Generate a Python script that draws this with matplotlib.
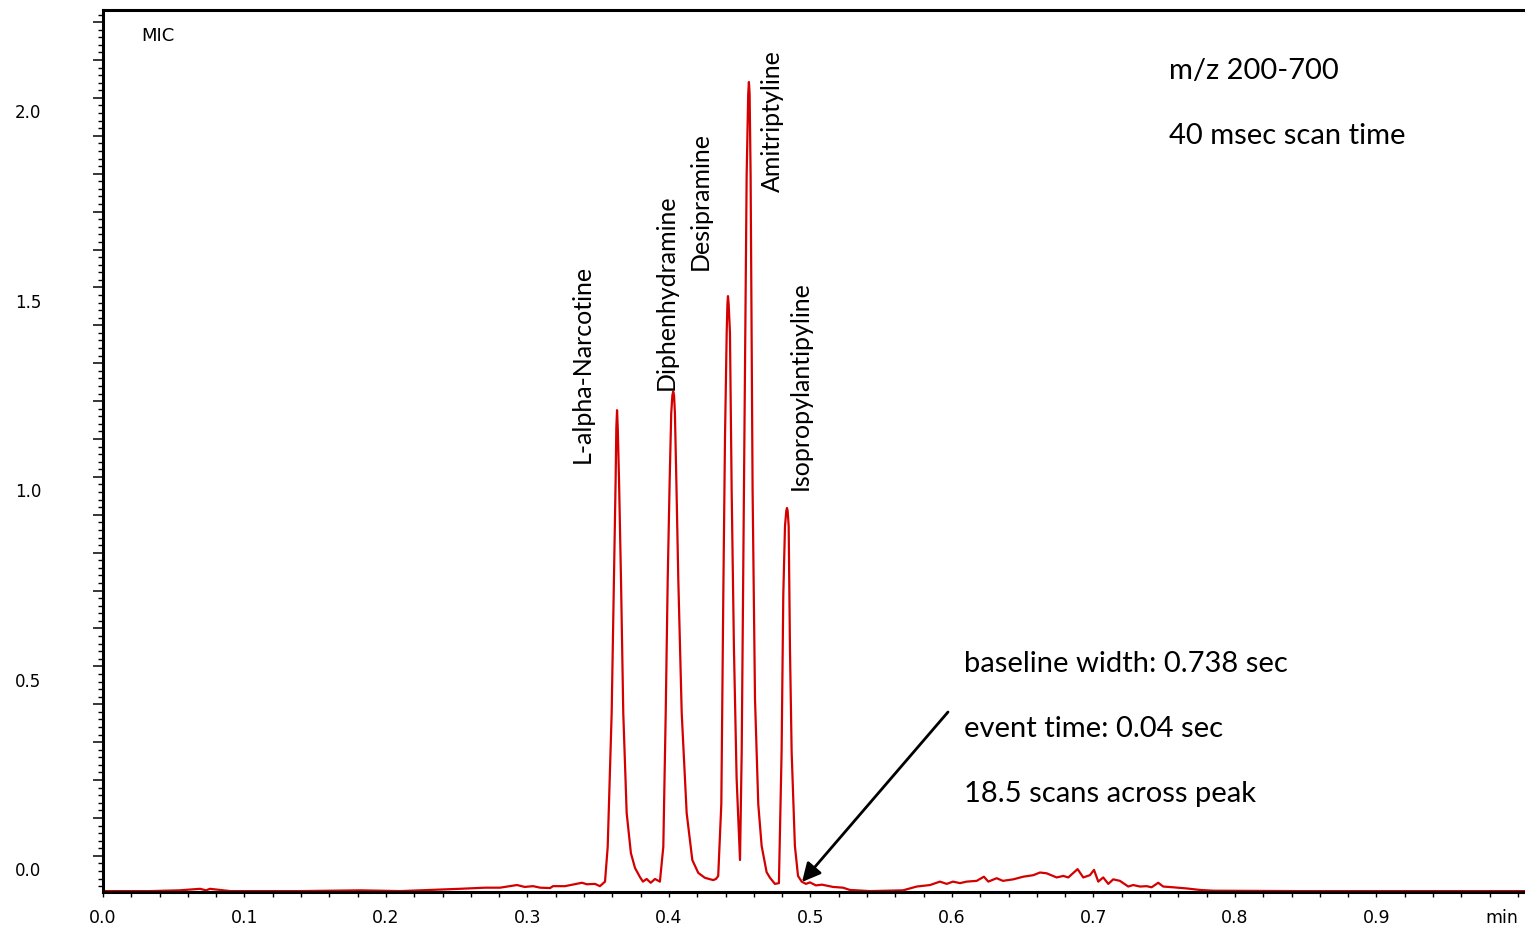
import matplotlib
matplotlib.use("Agg")
import matplotlib.pyplot as plt
from matplotlib.ticker import FixedLocator, MultipleLocator, NullFormatter
from matplotlib.transforms import blended_transform_factory

# Retention time (min) and MIC intensity of the chromatogram trace
time_min = [
    0.000, 0.033, 0.054, 0.0686, 0.0728, 0.0756, 0.090, 0.139, 0.182, 0.210,
    0.231, 0.252, 0.270, 0.2806, 0.2926, 0.298, 0.304, 0.309, 0.316, 0.318,
    0.3265, 0.332, 0.3385, 0.342, 0.3477, 0.3512, 0.3548, 0.3567, 0.3595, 0.3611,
    0.3623, 0.3628, 0.3633, 0.3638, 0.3647, 0.3661, 0.3677, 0.3701, 0.3731, 0.3760,
    0.3795, 0.3816, 0.3842, 0.3871, 0.3901, 0.3936, 0.3960, 0.3977, 0.3991, 0.4005,
    0.4016, 0.4024, 0.4030, 0.4036, 0.4042, 0.4052, 0.4066, 0.4090, 0.4125, 0.4165,
    0.4207, 0.4254, 0.4313, 0.4332, 0.4348, 0.4370, 0.4384, 0.4396, 0.4408, 0.4413,
    0.4417, 0.4422, 0.4431, 0.4443, 0.4459, 0.4478, 0.4502, 0.4514, 0.4530, 0.4549,
    0.4560, 0.4565, 0.4570, 0.4577, 0.4591, 0.4608, 0.4631, 0.4655, 0.4690, 0.4714,
    0.4749, 0.4777, 0.4796, 0.4808, 0.4820, 0.4829, 0.4834, 0.4839, 0.4846, 0.4855,
    0.4867, 0.4890, 0.4912, 0.4938, 0.4968, 0.4996, 0.5039, 0.5081, 0.5159, 0.5230,
    0.5279, 0.542, 0.5654, 0.5751, 0.5845, 0.5915, 0.5963, 0.6007, 0.6057, 0.6104,
    0.6175, 0.6226, 0.6257, 0.6316, 0.6360, 0.6433, 0.6504, 0.6575, 0.6622, 0.6669,
    0.6740, 0.6787, 0.6822, 0.6888, 0.6928, 0.6975, 0.7004, 0.7034, 0.7069, 0.7105,
    0.7140, 0.7187, 0.7246, 0.7281, 0.7329, 0.7376, 0.7411, 0.7458, 0.7493, 0.7564,
    0.7659, 0.7753, 0.7847, 0.846, 0.917, 1.005,
]
intensity = [
    -0.053, -0.053, -0.051, -0.047, -0.051, -0.047, -0.053, -0.053, -0.051, -0.053,
    -0.050, -0.047, -0.044, -0.044, -0.037, -0.042, -0.040, -0.044, -0.045, -0.040,
    -0.040, -0.036, -0.031, -0.035, -0.034, -0.040, -0.028, 0.064, 0.417, 0.768,
    1.032, 1.170, 1.216, 1.170, 1.032, 0.768, 0.417, 0.153, 0.047, 0.008,
    -0.016, -0.028, -0.021, -0.031, -0.021, -0.028, 0.064, 0.417, 0.768, 1.032,
    1.208, 1.255, 1.265, 1.255, 1.208, 1.032, 0.768, 0.417, 0.153, 0.029,
    -0.005, -0.018, -0.024, -0.021, -0.013, 0.177, 0.729, 1.145, 1.421, 1.495,
    1.517, 1.495, 1.421, 1.005, 0.591, 0.245, 0.029, 0.314, 1.005, 1.836,
    2.050, 2.082, 2.050, 1.836, 1.005, 0.454, 0.177, 0.066, -0.003, -0.018,
    -0.034, -0.032, 0.314, 0.729, 0.910, 0.950, 0.958, 0.950, 0.910, 0.591,
    0.314, 0.066, -0.013, -0.028, -0.034, -0.030, -0.038, -0.036, -0.042, -0.044,
    -0.050, -0.053, -0.051, -0.041, -0.037, -0.028, -0.034, -0.028, -0.032, -0.028,
    -0.026, -0.015, -0.028, -0.019, -0.026, -0.022, -0.015, -0.011, -0.004, -0.006,
    -0.017, -0.013, -0.017, 0.005, -0.017, -0.011, 0.003, -0.028, -0.017, -0.034,
    -0.022, -0.026, -0.041, -0.037, -0.041, -0.040, -0.043, -0.031, -0.041, -0.043,
    -0.046, -0.050, -0.052, -0.053, -0.053, -0.053,
]

# Compound names and the (time, intensity) anchor of each vertical label
compounds = ["L-alpha-Narcotine", "Diphenhydramine", "Desipramine",
             "Amitriptyline", "Isopropylantipyline"]
label_time = [0.3385, 0.398, 0.422, 0.4728, 0.4926]
label_height = [1.077, 1.269, 1.586, 1.792, 1.005]

y_tick_values = [0.0, 0.5, 1.0, 1.5, 2.0]
x_tick_values = [0.0, 0.1, 0.2, 0.3, 0.4, 0.5, 0.6, 0.7, 0.8, 0.9, 1.0]
x_tick_labels = ["0.0", "0.1", "0.2", "0.3", "0.4", "0.5", "0.6", "0.7", "0.8", "0.9", "min"]

method_notes = ["m/z 200-700", "40 msec scan time"]
peak_notes = ["baseline width: 0.738 sec", "event time: 0.04 sec", "18.5 scans across peak"]

W, H = 1525, 927
fig = plt.figure(figsize=(W / 100, H / 100), dpi=100)
ax = fig.add_axes([103 / W, 1 - 892 / H, 1 - 103 / W, (892 - 10) / H])

trace_red = "#d40000"
ax.plot(time_min, intensity, color=trace_red, lw=1.6, solid_joinstyle="round")

ax.set_xlim(0, 1.005)
ax.set_ylim(-0.0554, 2.272)

for side in ("left", "bottom", "top"):
    ax.spines[side].set_linewidth(2.2)
    ax.spines[side].set_color("black")
ax.spines["right"].set_visible(False)

# y axis: tick marks every 0.1 with 0.02 minor divisions
ax.yaxis.set_major_locator(MultipleLocator(0.1, offset=0.04))
ax.yaxis.set_minor_locator(MultipleLocator(0.02))
ax.yaxis.set_major_formatter(NullFormatter())
ax.tick_params(axis="y", which="major", length=7.5, width=1.1, direction="out")
ax.tick_params(axis="y", which="minor", length=3.8, width=1.0, direction="out")
ylab_tr = blended_transform_factory(fig.transFigure, ax.transData)
for v in y_tick_values:
    ax.text(28 / W, v, f"{v:.1f}", transform=ylab_tr, ha="center", va="center",
            fontsize=12, family="DejaVu Sans", color="black")

# x axis
ax.xaxis.set_major_locator(FixedLocator(x_tick_values))
ax.xaxis.set_minor_locator(MultipleLocator(0.02))
ax.set_xticklabels(x_tick_labels)
ax.tick_params(axis="x", which="both", length=3.5, width=1.0, direction="out",
               labelsize=12.5, pad=9)
ax.get_xticklabels()[-1].set_horizontalalignment("right")

ax.text(158 / W, 1 - 36 / H, "MIC", transform=fig.transFigure, ha="center",
        va="center", fontsize=13, family="DejaVu Sans")

for name, t, h in zip(compounds, label_time, label_height):
    ax.text(t, h, name, rotation=90, ha="center", va="bottom",
            fontsize=18, family="Lato")

for i, note in enumerate(method_notes):
    ax.text(1169 / W, 1 - (71 + 65 * i) / H, note, transform=fig.transFigure,
            ha="left", va="center", fontsize=21, family="Lato")
for i, note in enumerate(peak_notes):
    ax.text(964 / W, 1 - (664 + 65 * i) / H, note, transform=fig.transFigure,
            ha="left", va="center", fontsize=21, family="Lato")

ax.annotate("", xy=(0.4940, -0.029), xytext=(0.5972, 0.4195),
            arrowprops=dict(arrowstyle="-|>", color="black", lw=2.0,
                            mutation_scale=28, shrinkA=0, shrinkB=0))

fig.savefig("out.png", dpi=100)
